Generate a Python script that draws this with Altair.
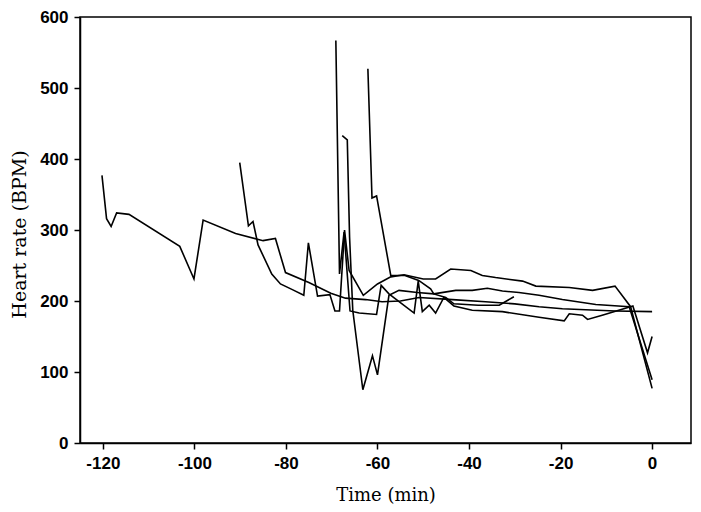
import altair as alt
import pandas as pd

# Series (time in min, heart rate in BPM)
A_t = [-120.2, -119.2, -118.2, -117.0, -114.3, -103.2, -100.1, -98.1, -91.0, -85.0, -82.3, -80.1, -75.0, -70.2, -67.0, -62.6, -59.0, -55.0, -50.9, -43.6, -36.4, -30.0, -24.7, -19.6, -12.0, -8.0, 0.0]
A_v = [377, 316, 305, 324, 322, 277, 231, 314, 295, 285, 288, 240, 226, 211, 204, 202, 199, 200, 205, 202, 199, 196, 192, 189, 187, 186, 185]

B_t = [-90.1, -88.2, -87.2, -86.1, -83.1, -81.2, -78.6, -76.1, -75.1, -73.1, -70.4, -69.3, -68.3, -67.2, -66.2, -63.1, -60.0, -57.1, -54.2, -50.0, -47.3, -44.0, -39.6, -37.1, -34.2, -28.3, -25.4, -18.1, -13.0, -8.1, -4.7, 0.0]
B_v = [395, 306, 312, 279, 238, 224, 216, 208, 282, 207, 209, 186, 186, 300, 243, 208, 224, 234, 237, 231, 231, 245, 243, 236, 233, 228, 221, 219, 215, 221, 192, 77]

C_t = [-69.1, -68.3, -67.3, -66.0, -64.0, -60.2, -59.2, -57.5, -52.0, -51.1, -50.2, -48.7, -47.3, -45.5, -43.3, -39.3, -32.7, -24.7, -19.2, -18.1, -15.2, -14.1, -10.9, -4.2, -1.0, 0.0]
C_v = [567, 238, 297, 186, 183, 181, 222, 210, 183, 228, 185, 194, 183, 205, 193, 187, 185, 177, 172, 182, 180, 174, 180, 193, 127, 150]

D_t = [-62.1, -61.2, -60.2, -57.1, -54.0, -51.0, -48.4, -47.7, -45.1, -43.3, -38.0, -33.4, -30.2]
D_v = [527, 345, 348, 236, 236, 229, 217, 210, 205, 196, 194, 194, 206]

E_t = [-67.7, -66.6, -66.1, -65.4, -63.2, -61.1, -60.0, -57.5, -55.3, -51.3, -47.7, -42.9, -39.3, -36.0, -32.7, -29.1, -24.7, -19.6, -12.3, -5.0, 0.0]
E_v = [433, 427, 290, 187, 75, 123, 96, 208, 215, 212, 210, 215, 215, 218, 214, 212, 208, 202, 195, 192, 89]

x_ticks = [-120, -100, -80, -60, -40, -20, 0]
y_ticks = [0, 100, 200, 300, 400, 500, 600]

rows = []
for name, ts, vs in [("A", A_t, A_v), ("B", B_t, B_v), ("C", C_t, C_v), ("D", D_t, D_v), ("E", E_t, E_v)]:
    for i, (t, v) in enumerate(zip(ts, vs)):
        rows.append({"series": name, "idx": i, "t": t, "hr": v})
df = pd.DataFrame(rows)

chart = alt.Chart(df).mark_line(color="black", strokeWidth=1.6).encode(
    x=alt.X("t:Q", scale=alt.Scale(domain=[-125, 8.5], nice=False, zero=False),
            axis=alt.Axis(values=x_ticks, title="Time (min)", titleFontSize=18,
                          labelExpr="'' + datum.value",
                          titleY=52, titleBaseline="middle", labelPadding=6)),
    y=alt.Y("hr:Q", scale=alt.Scale(domain=[0, 600], nice=False),
            axis=alt.Axis(values=y_ticks, title="Heart rate (BPM)", titleFontSize=19,
                          titleX=-61, titleY=217, titleAlign="center", titleBaseline="middle",
                          titleAngle=-90, labelPadding=6)),
    detail="series:N",
    order="idx:Q",
).properties(
    width=611, height=426,
    autosize=alt.AutoSizeParams(type="none"),
    padding={"left": 72, "top": 9, "right": 2, "bottom": 61},
).configure_view(
    stroke="black", strokeWidth=1.5
).configure_axis(
    grid=False, domainColor="black", domainWidth=1.5, tickColor="black", tickWidth=1.5,
    tickSize=6, labelFont="Liberation Sans", labelFontWeight="bold", labelFontSize=17,
    labelColor="black", titleFont="DejaVu Serif", titleFontWeight="normal", titleColor="black",
)

chart.save("out.html", embed_options={"renderer": "svg", "actions": False})
